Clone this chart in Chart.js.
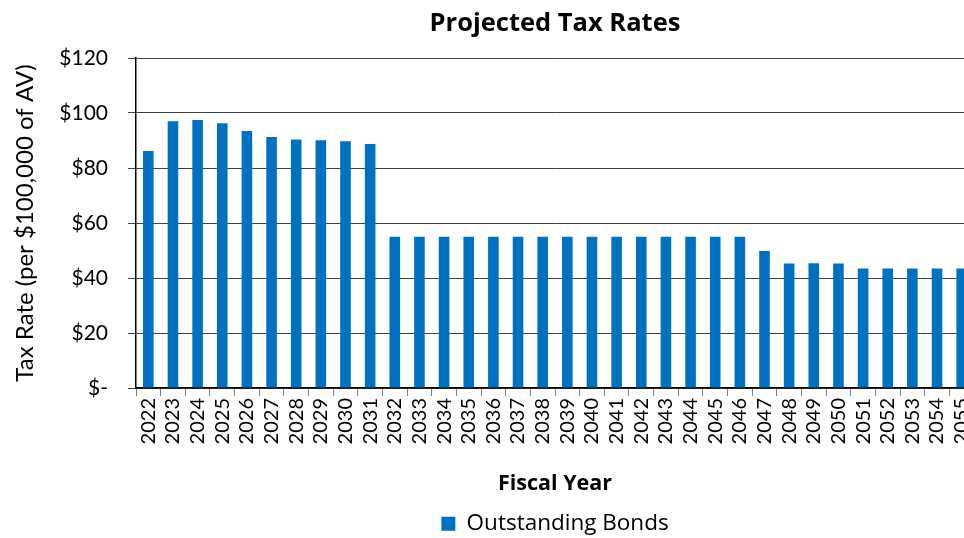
<!DOCTYPE html>
<html>
<head>
<meta charset="utf-8">
<script src="https://cdn.jsdelivr.net/npm/chart.js@4"></script>
<style>
  html, body { margin: 0; padding: 0; background: #fff; overflow: hidden; width: 964px; height: 538px; }
  #wrap { position: absolute; left: 0; top: 0; width: 1110px; height: 538px; }
</style>
</head>
<body>
<div id="wrap"><canvas id="c" width="1110" height="538"></canvas></div>
<script>
const categories = ['2022','2023','2024','2025','2026','2027','2028','2029','2030','2031',
  '2032','2033','2034','2035','2036','2037','2038','2039','2040','2041','2042','2043',
  '2044','2045','2046','2047','2048','2049','2050','2051','2052','2053','2054','2055'];
const outstandingBonds = [86.2, 97.0, 97.5, 96.3, 93.5, 91.3, 90.4, 90.1, 89.7, 88.7,
  55.0, 55.0, 55.0, 55.0, 55.0, 55.0, 55.0, 55.0, 55.0, 55.0, 55.0, 55.0,
  55.0, 55.0, 55.0, 49.8, 45.3, 45.4, 45.3, 43.5, 43.5, 43.5, 43.5, 43.5];
const yTicks = [0, 20, 40, 60, 80, 100, 120];

const FONT = 'Lato, "Open Sans", sans-serif';
const FONT2 = '"Open Sans", Lato, sans-serif';
const PLOT_BOTTOM = 388, PLOT_LEFT = 136, RIGHT_SPACE = 136;
const PAD_B = -7;
const Y_TITLE = 'Tax Rate (per $100,000 of AV)';

const yTitlePlugin = {
  id: 'yTitle',
  afterDraw(chart) {
    const ctx = chart.ctx, a = chart.chartArea;
    ctx.save();
    ctx.translate(25, (a.top + a.bottom) / 2);
    ctx.rotate(-Math.PI / 2);
    ctx.textAlign = 'center';
    ctx.textBaseline = 'middle';
    ctx.fillStyle = '#000';
    ctx.font = '24px ' + FONT;
    ctx.fillText(Y_TITLE, 0, 0);
    ctx.restore();
  }
};

new Chart(document.getElementById('c'), {
  type: 'bar',
  data: {
    labels: categories,
    datasets: [{
      label: 'Outstanding Bonds',
      data: outstandingBonds,
      backgroundColor: '#0070C0',
      borderWidth: 0,
      barPercentage: 0.43,
      categoryPercentage: 1.0
    }]
  },
  plugins: [yTitlePlugin],
  options: {
    responsive: false,
    animation: false,
    layout: { padding: { left: 0, right: 0, top: 0, bottom: PAD_B } },
    plugins: {
      title: {
        display: true,
        text: 'Projected Tax Rates',
        color: '#000',
        font: { family: FONT2, size: 25.5, weight: 'bold' },
        padding: { top: 8, bottom: 58 - 8 - 25.5 * 1.2 }
      },
      legend: {
        display: true,
        position: 'bottom',
        labels: {
          color: '#000',
          font: { family: FONT2, size: 22.5 },
          boxWidth: 14,
          boxHeight: 14,
          padding: 1,
          filter: (item) => item.text === 'Outstanding Bonds'
        }
      },
      tooltip: { enabled: false }
    },
    scales: {
      x: {
        grid: {
          display: true,
          drawOnChartArea: false,
          drawTicks: true,
          tickLength: 8,
          color: '#7f7f7f',
          offset: true
        },
        border: { display: true, color: '#000', width: 1.5 },
        ticks: {
          color: '#000',
          font: { family: FONT, size: 20 },
          minRotation: 90,
          maxRotation: 90,
          autoSkip: false,
          padding: 2
        },
        title: {
          display: true,
          text: 'Fiscal Year',
          color: '#000',
          font: { family: FONT2, size: 21.5, weight: 'bold' },
          padding: { top: 0, bottom: 15 }
        },
        afterFit: (s) => {
          const lh = s.chart.legend ? s.chart.legend.height : 34;
          s.height = 538 - PAD_B - PLOT_BOTTOM - lh;
        }
      },
      y: {
        min: 0,
        max: 120,
        afterBuildTicks: (s) => { s.ticks = yTicks.map(v => ({ value: v })); },
        grid: {
          display: true,
          drawOnChartArea: true,
          drawTicks: true,
          tickLength: 8,
          color: '#404040',
          lineWidth: 1
        },
        border: { display: true, color: '#000', width: 1.5 },
        ticks: {
          color: '#000',
          font: { family: FONT, size: 21 },
          padding: 20,
          callback: (v) => v === 0 ? '$-' : '$' + v
        },
        title: { display: false },
        afterFit: (s) => { s.width = PLOT_LEFT; }
      },
      rightSpace: {
        type: 'linear',
        position: 'right',
        display: true,
        min: 0,
        max: 1,
        grid: { display: false },
        border: { display: false },
        ticks: { display: false },
        afterFit: (s) => { s.width = RIGHT_SPACE; }
      }
    }
  }
});
</script>
</body>
</html>
